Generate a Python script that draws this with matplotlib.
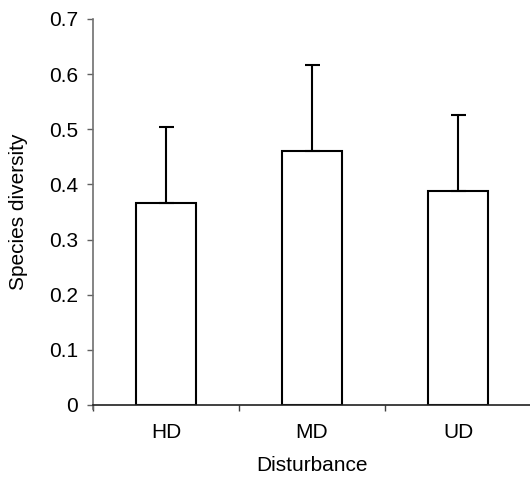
import numpy as np
import matplotlib
matplotlib.use("Agg")
import matplotlib.pyplot as plt

plt.rcParams['font.family'] = ['Liberation Sans', 'DejaVu Sans']

# data
categories = ["HD", "MD", "UD"]
diversity = [0.366, 0.461, 0.388]
diversity_err = [0.138, 0.156, 0.138]
y_ticks = [0, 0.1, 0.2, 0.3, 0.4, 0.5, 0.6, 0.7]
y_tick_labels = ["0", "0.1", "0.2", "0.3", "0.4", "0.5", "0.6", "0.7"]

fs = 15

fig = plt.figure(figsize=(5.30, 4.83), dpi=100)
ax = fig.add_axes([0.1755, 0.1615, 0.8265, 0.7992])

x = np.arange(len(categories))
ax.bar(x, diversity, width=0.41, color="white", edgecolor="black", linewidth=1.5, zorder=2)
ax.errorbar(x, diversity, yerr=[np.zeros(len(x)), diversity_err], fmt="none",
            ecolor="black", elinewidth=1.5, capsize=5.4, capthick=1.5, zorder=3)

ax.set_xlim(-0.5, 2.5)
ax.set_ylim(0, 0.7)
ax.set_yticks(y_ticks)
ax.set_yticklabels(y_tick_labels)
ax.set_xticks(x)
ax.set_xticklabels(categories)
ax.set_xticks([-0.5, 0.5, 1.5], minor=True)

ax.tick_params(axis="x", which="major", length=0, pad=13, labelsize=fs)
ax.tick_params(axis="x", which="minor", length=4.3, width=1, color="#404040", direction="out")
ax.tick_params(axis="y", length=4.3, width=1, color="#606060", pad=6.5, labelsize=fs)

for s in ["top", "right"]:
    ax.spines[s].set_visible(False)
ax.spines["left"].set_color("#707070")
ax.spines["left"].set_linewidth(1.2)
ax.spines["bottom"].set_color("#202020")
ax.spines["bottom"].set_linewidth(1.2)
ax.spines["left"].set_bounds(-0.008, 0.7)

ax.set_xlabel("Disturbance", fontsize=fs, labelpad=9.7)
ax.set_ylabel("Species diversity", fontsize=fs)
ax.yaxis.set_label_coords(-0.148, 0.5)

fig.savefig("out.png", dpi=100)
